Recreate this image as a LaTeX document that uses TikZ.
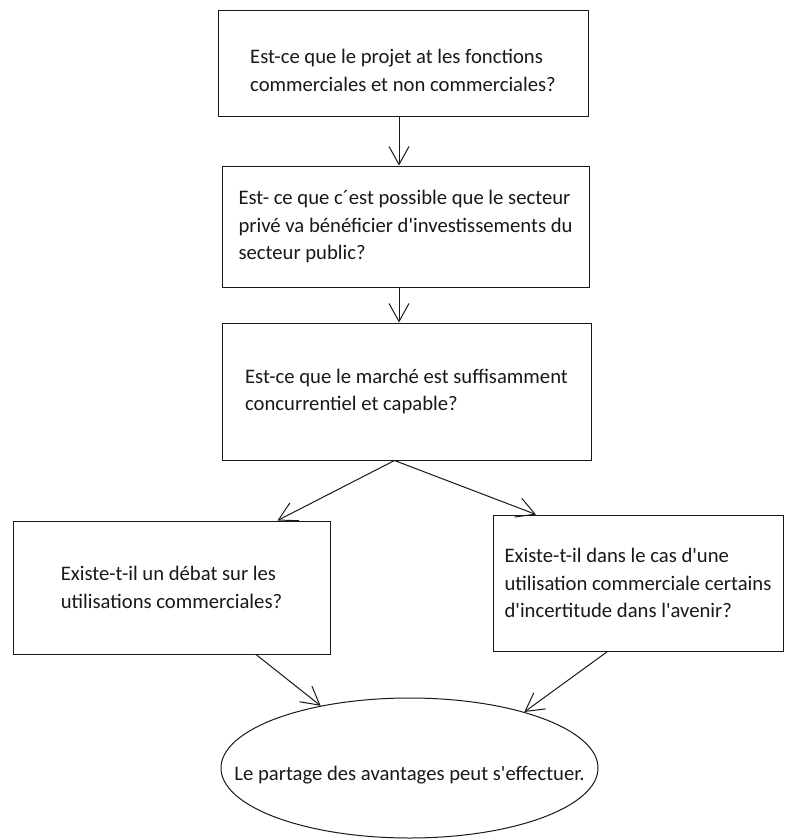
\documentclass[tikz,border=0pt]{standalone}
\usepackage{fontspec}
\setmainfont{Carlito}[Ligatures=TeXOff]
\usepackage{tikz}
\usetikzlibrary{shapes.geometric,arrows.meta,calc}
\definecolor{inkgrey}{RGB}{25,25,25}

\begin{document}
\begin{tikzpicture}[x=0.75pt,y=-0.75pt,
  font=\fontsize{15.5}{20.5}\selectfont,
  qbox/.style={draw=inkgrey,line width=0.75pt,align=left,inner sep=0pt,text=inkgrey},
  qend/.style={ellipse,draw=inkgrey,line width=0.75pt,inner ysep=0pt,inner xsep=-36pt,text=inkgrey},
  flow/.style={draw=inkgrey,line width=0.75pt,-{Straight Barb[length=13.5pt,width=15pt]}}]
\fill[white] (0,0) rectangle (786,839);
\useasboundingbox (0,0) rectangle (786,839);
% ---------- the three questions in a row ----------
\node[qbox,minimum width=277.5pt,minimum height=79.5pt] (q1) at (403,63)
  {\rule{0pt}{22pt}Est-ce que le projet at les fonctions\\commerciales et non commerciales?};
\node[qbox,minimum width=275.25pt,minimum height=90.75pt] (q2) at (405.5,226.5)
  {Est- ce que c´est possible que le secteur\\privé va bénéficier d'investissements du\\secteur public?};
\node[qbox,minimum width=276.75pt,minimum height=102.75pt] (q3) at (406.5,391.5)
  {Est-ce que le marché est suffisamment\\concurrentiel et capable?};
% ---------- the two branches ----------
\node[qbox,minimum width=237.75pt,minimum height=99.75pt] (ql) at (171.5,587.5)
  {Existe-t-il un débat sur les\\utilisations commerciales?};
\node[qbox,minimum width=217.5pt,minimum height=102pt] (qr) at (638,583)
  {Existe-t-il dans le cas d'une\\utilisation commerciale certains\\d'incertitude dans l'avenir?};
% ---------- the outcome ----------
\node[qend,minimum width=282.75pt,minimum height=105pt] (res) at (409.5,768)
  {\rule{0pt}{21pt}Le partage des avantages peut s'effectuer.};
% connectors
\draw[flow] ($(q1.south)+(-4,0)$) -- ($(q2.north)+(-6.5,0)$);
\draw[flow] ($(q2.south)+(-6.5,0)$) -- ($(q3.north)+(-7.5,0)$);
\draw[flow] ($(q3.south)+(-12,0)$) -- ($(ql.north)+(106,0)$);
\draw[flow] ($(q3.south)+(-12,0)$) -- ($(qr.north)+(-102,0)$);
\draw[flow] ($(ql.south)+(84.5,0)$) -- (res.145);
\draw[flow] ($(qr.south)+(-30.5,0)$) -- (res.26);
\end{tikzpicture}
\end{document}
